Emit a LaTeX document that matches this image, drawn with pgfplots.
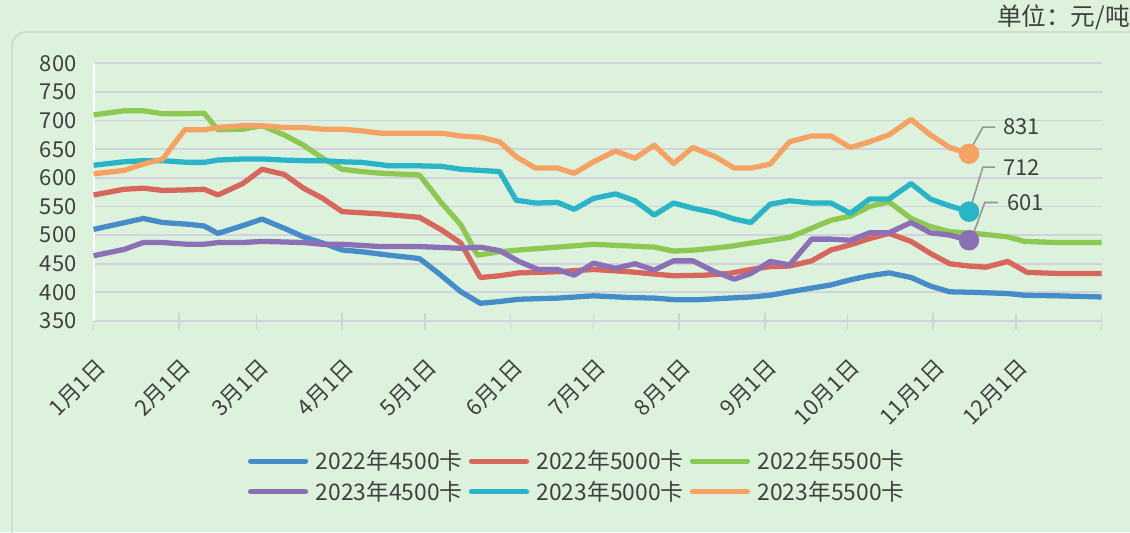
\documentclass[border=0pt]{standalone}
\usepackage{pgfplots}
\pgfplotsset{compat=1.18}
\usepackage{fontspec}
\setmainfont{Noto Sans CJK SC}

\definecolor{bg}{RGB}{221,242,220}
\definecolor{framegray}{RGB}{200,214,200}
\definecolor{gridgray}{RGB}{208,210,222}
\definecolor{txt}{RGB}{64,64,64}
\definecolor{leader}{RGB}{150,150,150}
\definecolor{cBlue}{RGB}{70,140,200}
\definecolor{cRed}{RGB}{215,102,92}
\definecolor{cGreen}{RGB}{140,200,82}
\definecolor{cPurple}{RGB}{140,112,182}
\definecolor{cCyan}{RGB}{42,180,200}
\definecolor{cOrange}{RGB}{245,162,100}

\begin{document}
\begin{tikzpicture}[x=1cm,y=1cm]
\useasboundingbox (0,0) rectangle (22.6,10.64);
\fill[bg] (0,0) rectangle (22.6,10.64);
\draw[framegray, line width=0.8pt, rounded corners=8pt] (0.24,-0.3) -- (0.24,10.0) -- (22.9,10.0);
\node[anchor=east, font=\fontsize{14}{16}\selectfont, text=txt, inner sep=0pt] at (22.6,10.3) {单位：元/吨};

\begin{axis}[
  at={(1.872cm,4.22cm)}, anchor=south west,
  scale only axis, width=20.16cm, height=5.154cm,
  xmin=0, xmax=365, ymin=350, ymax=800,
  axis lines*=left,
  x axis line style={draw=gridgray, line width=1pt},
  y axis line style={draw=white, line width=1.2pt},
  xtick={0,31,59,90,120,151,181,212,243,273,304,334,365},
  xticklabels={1月1日,2月1日,3月1日,4月1日,5月1日,6月1日,7月1日,8月1日,9月1日,10月1日,11月1日,12月1日,},
  xtick align=center, major tick length=0.34cm,
  xtick style={draw=gridgray, line width=1pt},
  ytick={350,400,...,800},
  ytick style={draw=none},
  ymajorgrids, grid style={gridgray, line width=1pt},
  tick label style={font=\fontsize{12.5}{14}\selectfont, text=txt},
  xticklabel style={rotate=45, anchor=east, yshift=-0.59cm, xshift=-0.25cm},
  yticklabel style={xshift=-0.22cm},
  /pgf/number format/assume math mode=true,
  clip=false,
  legend columns=3,
  legend style={at={(0.4806,-0.6034)}, anchor=center, draw=none, fill=none,
    font=\fontsize{13}{15}\selectfont, text=txt,
    nodes={inner ysep=1pt},
    /tikz/every odd column/.append style={column sep=0.08cm},
    /tikz/every even column/.append style={column sep=0.05cm},
    row sep=3pt},
  legend image code/.code={\draw[#1, line cap=round] (0cm,0cm) -- (1.1cm,0cm);},
  every axis plot/.append style={line width=3pt, line join=round},
]
% 2022 4500
\addplot[cBlue, mark=none] coordinates {
(0,510) (18,529) (25,522) (34,519) (40,516) (45,503) (53,515) (61,528) (69,512)
(76,497) (83,486) (90,474) (97,471) (107,465) (118,459) (125,433) (133,401)
(140,381) (147,384) (154,388) (168,390) (181,394) (194,391) (203,390) (211,387)
(218,387) (230,390) (238,392) (245,395) (252,401) (267,413) (274,422) (281,429)
(288,434) (296,426) (303,411) (310,401) (319,400) (331,398) (337,395) (349,394) (365,392)};
\addlegendentry{2022年4500卡}
% 2022 5000
\addplot[cRed, mark=none] coordinates {
(0,570) (11,580) (18,582) (25,578) (34,579) (40,580) (45,570) (54,590) (61,615)
(69,606) (76,582) (83,564) (90,541) (97,539) (104,537) (118,531) (126,509)
(133,486) (140,426) (147,429) (154,434) (168,436) (181,440) (194,436) (210,429)
(221,430) (230,433) (238,440) (245,445) (252,446) (260,455) (267,474) (274,483)
(281,494) (288,503) (296,489) (303,468) (310,450) (317,446) (323,444) (331,454)
(338,435) (349,433) (365,433)};
\addlegendentry{2022年5000卡}
% 2022 5500
\addplot[cGreen, mark=none] coordinates {
(0,710) (11,717) (18,717) (25,712) (34,712) (40,713) (45,684) (54,685) (61,691)
(69,675) (76,657) (83,634) (90,615) (97,611) (104,608) (118,605) (126,556)
(133,518) (139,465) (147,471) (154,474) (168,479) (181,484) (194,481) (203,479)
(210,472) (218,474) (230,480) (238,486) (245,491) (252,496) (260,512) (267,526)
(274,533) (281,550) (288,558) (296,529) (303,515) (310,506) (319,503) (331,497)
(337,489) (349,487) (365,487)};
\addlegendentry{2022年5500卡}
% 2023 4500
\addplot[cPurple, mark=none] coordinates {
(0,464) (11,475) (18,487) (25,487) (34,484) (40,484) (45,487) (54,487) (61,489)
(69,488) (76,487) (83,484) (90,484) (104,480) (118,480) (133,477) (140,479)
(147,473) (154,454) (161,440) (168,440) (174,430) (181,451) (189,442) (196,450)
(203,439) (210,455) (217,455) (225,436) (232,423) (238,433) (245,454) (252,448)
(260,493) (267,493) (274,491) (281,504) (288,504) (296,522) (303,504) (310,500) (317,491)};
\addlegendentry{2023年4500卡}
% 2023 5000
\addplot[cCyan, mark=none] coordinates {
(0,622) (11,628) (18,630) (25,630) (34,627) (40,627) (45,631) (54,633) (61,633)
(69,631) (76,630) (83,630) (90,628) (97,627) (104,623) (107,621) (118,621)
(126,620) (133,615) (140,613) (147,611) (153,561) (160,556) (168,557) (174,545)
(181,564) (189,572) (196,560) (203,535) (210,556) (217,547) (225,539) (232,528)
(238,522) (245,554) (252,560) (260,556) (267,556) (274,538) (281,563) (288,563)
(296,590) (303,563) (310,551) (317,541)};
\addlegendentry{2023年5000卡}
% 2023 5500
\addplot[cOrange, mark=none] coordinates {
(0,607) (11,613) (18,624) (25,633) (33,684) (40,684) (45,688) (54,691) (61,691)
(69,688) (76,688) (83,685) (90,685) (97,682) (104,678) (118,678) (126,678)
(133,673) (140,671) (147,663) (153,637) (160,617) (168,617) (174,608) (181,628)
(189,647) (196,634) (203,657) (210,625) (217,653) (225,637) (232,617) (238,617)
(245,624) (252,663) (260,673) (267,673) (274,653) (281,663) (288,675) (296,702)
(303,675) (310,653) (317,642)};
\addlegendentry{2023年5500卡}
% end markers
\addplot[forget plot, only marks, mark=*, mark size=4.3pt, cPurple] coordinates {(317,491)};
\addplot[forget plot, only marks, mark=*, mark size=4.3pt, cCyan] coordinates {(317,541)};
\addplot[forget plot, only marks, mark=*, mark size=4.3pt, cOrange] coordinates {(317,642)};
% labels
\draw[leader, line width=0.9pt] (axis cs:317.6,650) -- (axis cs:322,688.6) -- (axis cs:326.4,688.6);
\draw[leader, line width=0.9pt] (axis cs:317.6,549) -- (axis cs:322,618.6) -- (axis cs:326.4,618.6);
\draw[leader, line width=0.9pt] (axis cs:318.3,499) -- (axis cs:322.7,557) -- (axis cs:327.5,557);
\node[anchor=west, inner sep=0pt, text=txt, font=\fontsize{12.5}{14}\selectfont] at (axis cs:329.3,688.6) {831};
\node[anchor=west, inner sep=0pt, text=txt, font=\fontsize{12.5}{14}\selectfont] at (axis cs:329.3,618.6) {712};
\node[anchor=west, inner sep=0pt, text=txt, font=\fontsize{12.5}{14}\selectfont] at (axis cs:330.7,557) {601};
\end{axis}
\end{tikzpicture}
\end{document}
